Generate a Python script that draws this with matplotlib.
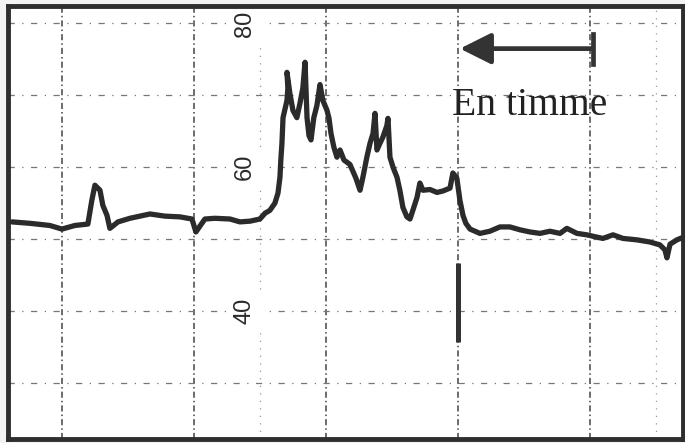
import matplotlib.pyplot as plt

# chart recorder trace: time in minutes, reading in scale units
minutes = [37.3, 45.5, 54.5, 60.0, 65.9, 71.8, 73.6, 75.0, 77.3, 78.6, 80.5, 81.8,
           85.5, 90.9, 100.0, 106.8, 113.6, 119.1, 120.9, 122.7, 125.0, 129.5,
           136.4, 140.9, 145.5, 150.0, 152.3, 154.5, 156.8, 158.2, 159.1, 159.5,
           160.0, 160.5, 162.3, 162.7, 162.3, 163.6, 165.0, 166.8, 168.2, 169.5,
           170.5, 171.4, 172.3, 173.2, 174.5, 175.9, 177.3, 178.6, 180.5, 181.4,
           182.3, 183.6, 185.0, 186.4, 188.2, 190.9, 193.6, 195.5, 196.8, 198.6,
           200.0, 201.4, 202.3, 203.2, 204.5, 205.9, 207.7, 208.2, 209.1, 210.5,
           212.3, 213.6, 215.0, 216.8, 218.2, 219.5, 221.4, 222.7, 224.1, 227.3,
           230.5, 233.2, 236.4, 237.7, 239.5, 240.9, 242.3, 243.6, 245.5, 250.0,
           254.5, 259.1, 263.6, 268.2, 272.7, 277.3, 281.8, 286.4, 289.5, 294.1,
           298.6, 301.4, 305.9, 310.5, 315.0, 321.4, 327.3, 331.8, 334.1, 335.0,
           336.4, 339.5, 342.7]
reading = [52.4, 52.2, 51.9, 51.4, 51.9, 52.1, 55.4, 57.5, 56.8, 54.7, 53.3, 51.5,
           52.4, 52.9, 53.5, 53.2, 53.1, 52.8, 51.0, 51.8, 52.8, 52.9,
           52.8, 52.4, 52.5, 52.8, 53.6, 54.0, 55.0, 56.4, 58.6, 61.0,
           63.3, 66.9, 69.3, 71.0, 73.2, 70.3, 67.9, 66.9, 68.9, 71.0,
           74.6, 66.9, 64.4, 63.8, 66.9, 68.6, 71.5, 69.3, 67.9, 66.8,
           64.7, 62.8, 61.4, 62.4, 61.0, 60.4, 58.5, 56.8, 58.6, 61.4,
           63.3, 64.7, 67.5, 62.4, 63.3, 64.2, 65.8, 66.8, 61.4, 60.0,
           58.6, 56.8, 54.4, 53.1, 52.8, 54.0, 55.8, 57.8, 56.8, 56.9,
           56.5, 56.7, 57.1, 59.2, 58.5, 55.4, 53.3, 52.2, 51.4, 50.8,
           51.1, 51.7, 51.7, 51.3, 51.0, 50.8, 51.1, 50.8, 51.5, 50.8,
           50.6, 50.4, 50.1, 50.6, 50.1, 49.9, 49.6, 49.2, 48.5, 47.4,
           49.3, 49.9, 50.3]

hour_lines = [60, 120, 180, 240, 300]
half_lines = [150, 330]
scale_lines = [30, 40, 50, 60, 70, 80]
scale_labels = [80, 60, 40]

fig = plt.figure(figsize=(6.85, 4.43), dpi=100, facecolor="#f3f3f3")
ax = fig.add_axes([0.0117, 0.009, 0.9854, 0.977])
ax.set_xlim(35.5, 342.3)
ax.set_ylim(22.2, 82.4)

for x in hour_lines:
    ax.axvline(x, color="#444444", lw=1.1, ls=(0, (4, 2, 1, 2)), zorder=1)
for x in half_lines:
    ax.axvline(x, color="#999999", lw=0.9, ls=(0, (1, 5)), zorder=1)
for y in scale_lines:
    ax.axhline(y, color="#777777", lw=0.9, ls=(0, (5, 6, 1, 6)), zorder=1)

for v in scale_labels:
    ax.text(143.2, v, str(v), rotation=90, ha="center", va="center",
            fontsize=17, family="Liberation Sans", color="#2a2a2a",
            backgroundcolor="white", zorder=2)

ax.plot(minutes, reading, color="#2b2b2b", lw=3.8, solid_joinstyle="round",
        solid_capstyle="round", zorder=3)

# "one hour" arrow
ax.annotate("", xy=(240.9, 76.5), xytext=(301.0, 76.5),
            arrowprops=dict(arrowstyle="-|>,head_length=1.9,head_width=0.95",
                            color="#333333", lw=3.4, shrinkA=0, shrinkB=0,
                            mutation_scale=10), zorder=4)
ax.plot([301.5, 301.5], [74.4, 78.6], color="#333333", lw=3.4, zorder=4)
ax.text(237.3, 67.2, "En timme", ha="left", va="baseline", fontsize=28.5,
        family="Liberation Serif", color="#222222", zorder=4)

# event marker
ax.plot([240.0, 240.0], [35.7, 46.7], color="#333333", lw=3.6,
        solid_capstyle="butt", zorder=4)

ax.set_xticks([])
ax.set_yticks([])
for s in ax.spines.values():
    s.set_linewidth(3.5)
    s.set_color("#2e2e2e")

fig.savefig("out.png", dpi=100, facecolor=fig.get_facecolor())
